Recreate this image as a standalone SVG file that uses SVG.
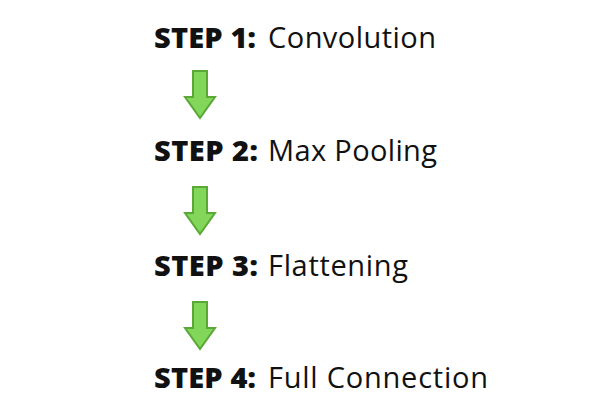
<svg xmlns="http://www.w3.org/2000/svg" width="599" height="413" viewBox="0 0 599 413">
<defs>
<style>
.t{font-family:"Open Sans","Liberation Sans",sans-serif;font-size:29px;fill:#111}
.b{font-weight:800}
.a{fill:#82d65a;stroke:#5aa835;stroke-width:2;stroke-linejoin:miter}
</style>
<path id="arr" d="M193,0 H207 V26 H215 L200,47 L185,26 H193 Z"/>
</defs>
<rect width="599" height="413" fill="#fff"/>
<g id="step1"><text class="t b" x="154" y="48" textLength="102" lengthAdjust="spacing">STEP 1:</text><text class="t" x="268" y="48" textLength="168" lengthAdjust="spacing">Convolution</text></g>
<g id="step2"><text class="t b" x="154" y="161" textLength="104" lengthAdjust="spacing">STEP 2:</text><text class="t" x="268" y="161" textLength="169" lengthAdjust="spacing">Max Pooling</text></g>
<g id="step3"><text class="t b" x="154" y="276" textLength="104" lengthAdjust="spacing">STEP 3:</text><text class="t" x="268" y="276" textLength="140" lengthAdjust="spacing">Flattening</text></g>
<g id="step4"><text class="t b" x="154" y="388" textLength="102" lengthAdjust="spacing">STEP 4:</text><text class="t" x="268" y="388" textLength="220" lengthAdjust="spacing">Full Connection</text></g>
<g id="connectors">
<use href="#arr" class="a" transform="translate(0,71)"/>
<use href="#arr" class="a" transform="translate(0,187)"/>
<use href="#arr" class="a" transform="translate(0,302)"/>
</g>
</svg>
